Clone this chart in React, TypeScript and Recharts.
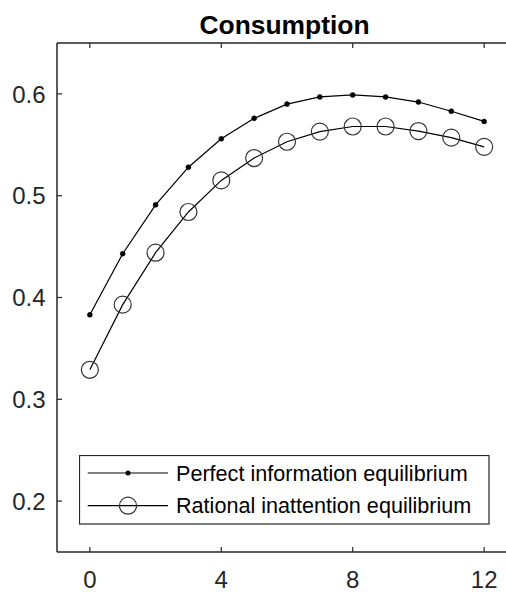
import React from 'react';
import { LineChart, Line, XAxis, YAxis, Legend } from 'recharts';

const periods = [0, 1, 2, 3, 4, 5, 6, 7, 8, 9, 10, 11, 12];
const perfectInfo = [0.383, 0.443, 0.491, 0.528, 0.556, 0.576, 0.590, 0.597, 0.599, 0.597, 0.592, 0.583, 0.573];
const rationalInattention = [0.329, 0.393, 0.444, 0.484, 0.515, 0.537, 0.553, 0.563, 0.568, 0.568, 0.5635, 0.557, 0.548];
const xTicks = [0, 4, 8, 12];
const yTicks = [0.2, 0.3, 0.4, 0.5, 0.6];
const seriesNames = ['Perfect information equilibrium', 'Rational inattention equilibrium'];
const title = 'Consumption';

const data = periods.map((t, i) => ({ t, pi: perfectInfo[i], ri: rationalInattention[i] }));

const AXIS = '#262626';
const FONT = '"Liberation Sans", Arial, Helvetica, sans-serif';
const TICK_FS = 24;
const TICK_LEN = 5;

const BottomTick = (props: any) => {
  const { x, y, payload } = props;
  return (
    <g>
      <line x1={x} x2={x} y1={y} y2={y - TICK_LEN} stroke={AXIS} strokeWidth={1.2} />
      <text x={x} y={y + 35.5} textAnchor="middle" fontSize={TICK_FS} fill={AXIS} fontFamily={FONT}>
        {String(payload.value)}
      </text>
    </g>
  );
};

const TopTick = (props: any) => {
  const { x, y } = props;
  return <line x1={x} x2={x} y1={y} y2={y + TICK_LEN} stroke={AXIS} strokeWidth={1.2} />;
};

const LeftTick = (props: any) => {
  const { x, y, payload } = props;
  return (
    <g>
      <line x1={x} x2={x + TICK_LEN} y1={y} y2={y} stroke={AXIS} strokeWidth={1.2} />
      <text x={x - 11.5} y={y + 8.6} textAnchor="end" fontSize={TICK_FS} fill={AXIS} fontFamily={FONT}>
        {Number(payload.value).toFixed(1)}
      </text>
    </g>
  );
};

const LegendBox = () => {
  const rows = [18, 50.7];
  return (
    <svg width={411} height={70} style={{ display: 'block' }}>
      <rect x={0.5} y={0.5} width={409.5} height={68.5} fill="#fff" stroke={AXIS} strokeWidth={1.2} />
      {seriesNames.map((name, i) => (
        <g key={name}>
          <line x1={8.7} x2={89} y1={rows[i]} y2={rows[i]} stroke="#000" strokeWidth={1.2} />
          {i === 0 ? (
            <circle cx={49} cy={rows[i]} r={2.5} fill="#000" />
          ) : (
            <circle cx={49} cy={rows[i]} r={8.5} fill="none" stroke="#333" strokeWidth={1.2} />
          )}
          <text x={97} y={rows[i] + 7.6} fontSize={21.6} fill="#000" fontFamily={FONT}>
            {name}
          </text>
        </g>
      ))}
    </svg>
  );
};

export default function App() {
  return (
    <div
      style={{
        position: 'absolute',
        left: 0,
        top: 0,
        width: 506,
        height: 592,
        overflow: 'hidden',
        background: '#fff',
        fontFamily: FONT,
      }}
    >
      <svg width={506} height={42} style={{ position: 'absolute', left: 0, top: 0 }}>
        <text x={284.5} y={33.5} textAnchor="middle" fontWeight="bold" fontSize={26.4} fill="#000" fontFamily={FONT}>
          {title}
        </text>
      </svg>
      <div style={{ position: 'absolute', left: 0, top: 0 }}>
        <LineChart width={530} height={592} data={data} margin={{ top: 41, right: 13, left: 0, bottom: 0 }}>
          <XAxis
            xAxisId="bottom"
            dataKey="t"
            type="number"
            domain={[-1, 13]}
            ticks={xTicks}
            interval={0}
            height={40}
            tickSize={0}
            tickMargin={0}
            tickLine={false}
            axisLine={{ stroke: AXIS, strokeWidth: 1.5 }}
            tick={<BottomTick />}
            allowDataOverflow
          />
          <XAxis
            xAxisId="top"
            orientation="top"
            dataKey="t"
            type="number"
            domain={[-1, 13]}
            ticks={xTicks}
            interval={0}
            height={2}
            tickSize={0}
            tickMargin={0}
            tickLine={false}
            axisLine={{ stroke: AXIS, strokeWidth: 1.5 }}
            tick={<TopTick />}
            allowDataOverflow
          />
          <YAxis
            type="number"
            domain={[0.15, 0.65]}
            ticks={yTicks}
            interval={0}
            width={57}
            tickSize={0}
            tickMargin={0}
            tickLine={false}
            axisLine={{ stroke: AXIS, strokeWidth: 1.5 }}
            tick={<LeftTick />}
            allowDataOverflow
          />
          <Legend
            layout="vertical"
            align="center"
            verticalAlign="middle"
            content={<LegendBox />}
            wrapperStyle={{ left: 79, top: 455, width: 411, height: 70 }}
          />
          <Line
            xAxisId="bottom"
            type="linear"
            dataKey="pi"
            name={seriesNames[0]}
            stroke="#000"
            strokeWidth={1.2}
            dot={{ r: 2.5, fill: '#000', stroke: '#000', strokeWidth: 0.5 }}
            activeDot={false}
            isAnimationActive={false}
          />
          <Line
            xAxisId="bottom"
            type="linear"
            dataKey="ri"
            name={seriesNames[1]}
            stroke="#000"
            strokeWidth={1.2}
            dot={{ r: 8.5, fill: 'none', stroke: '#333', strokeWidth: 1.2 }}
            activeDot={false}
            isAnimationActive={false}
          />
        </LineChart>
      </div>
    </div>
  );
}
